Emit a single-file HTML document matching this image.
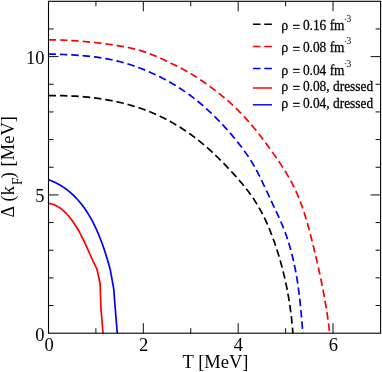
<!DOCTYPE html>
<html><head><meta charset="utf-8"><style>
html,body{margin:0;padding:0;background:#fff;}
body{width:382px;height:372px;overflow:hidden;position:relative;font-family:"Liberation Serif",serif;color:#000;}
svg{position:absolute;left:0;top:0;will-change:transform;}
text{font-family:"Liberation Serif",serif;fill:#000;}
</style></head><body>
<svg width="382" height="372" viewBox="0 0 382 372">
<rect x="0" y="0" width="382" height="372" fill="#fff"/>
<g fill="none" stroke-width="1.7" stroke-linejoin="round">
<path d="M48.50,95.70 L51.49,95.65 L54.48,95.63 L57.48,95.63 L60.48,95.66 L63.48,95.71 L66.49,95.79 L69.49,95.90 L72.50,96.03 L75.51,96.20 L78.52,96.39 L81.53,96.62 L84.53,96.87 L87.53,97.16 L90.53,97.47 L93.53,97.82 L96.52,98.21 L99.51,98.62 L102.49,99.07 L105.46,99.56 L108.43,100.08 L111.39,100.63 L114.34,101.23 L117.28,101.86 L120.22,102.52 L123.14,103.23 L126.05,103.97 L128.95,104.76 L131.83,105.58 L134.71,106.45 L137.57,107.35 L140.41,108.30 L143.24,109.29 L146.06,110.33 L148.85,111.40 L151.63,112.53 L154.40,113.69 L157.14,114.91 L159.87,116.16 L162.57,117.47 L165.26,118.82 L167.92,120.21 L170.56,121.65 L173.18,123.13 L175.78,124.65 L178.36,126.21 L180.91,127.80 L183.43,129.43 L185.94,131.10 L188.41,132.81 L190.86,134.55 L193.29,136.33 L195.69,138.14 L198.06,139.99 L200.40,141.87 L202.72,143.79 L205.01,145.73 L207.28,147.71 L209.52,149.72 L211.74,151.75 L213.94,153.81 L216.11,155.89 L218.27,158.00 L220.41,160.12 L222.54,162.26 L224.65,164.42 L226.74,166.59 L228.82,168.77 L230.88,170.97 L232.93,173.18 L234.96,175.41 L236.96,177.65 L238.94,179.91 L240.90,182.19 L242.82,184.49 L244.71,186.82 L246.56,189.17 L248.38,191.55 L250.16,193.95 L251.89,196.39 L253.57,198.85 L255.21,201.35 L256.80,203.88 L258.33,206.45 L259.82,209.05 L261.25,211.67 L262.64,214.33 L263.99,217.02 L265.29,219.73 L266.55,222.46 L267.77,225.21 L268.95,227.99 L270.10,230.78 L271.21,233.58 L272.28,236.41 L273.33,239.24 L274.34,242.08 L275.33,244.94 L276.29,247.80 L277.22,250.67 L278.13,253.54 L279.01,256.42 L279.86,259.31 L280.68,262.20 L281.48,265.11 L282.26,268.01 L283.00,270.92 L283.72,273.84 L284.42,276.77 L285.09,279.70 L285.73,282.63 L286.35,285.57 L286.95,288.52 L287.52,291.47 L288.06,294.42 L288.58,297.38 L289.07,300.35 L289.54,303.31 L289.98,306.29 L290.40,309.26 L290.80,312.24 L291.17,315.23 L291.52,318.21 L291.84,321.21 L292.14,324.20 L292.42,327.20 L292.67,330.20 L292.90,333.20" stroke="#000" stroke-dasharray="7.5 3.9"/>
<path d="M48.50,39.80 L51.50,39.82 L54.49,39.86 L57.50,39.93 L60.50,40.02 L63.51,40.14 L66.52,40.27 L69.53,40.43 L72.54,40.61 L75.56,40.81 L78.57,41.02 L81.58,41.26 L84.59,41.52 L87.60,41.80 L90.61,42.10 L93.61,42.41 L96.61,42.74 L99.60,43.09 L102.59,43.46 L105.58,43.84 L108.56,44.24 L111.53,44.66 L114.49,45.09 L117.45,45.55 L120.40,46.04 L123.34,46.56 L126.28,47.12 L129.20,47.72 L132.11,48.38 L135.01,49.08 L137.90,49.85 L140.78,50.68 L143.65,51.58 L146.50,52.55 L149.34,53.59 L152.16,54.70 L154.97,55.86 L157.77,57.07 L160.55,58.32 L163.31,59.60 L166.06,60.89 L168.78,62.19 L171.49,63.50 L174.19,64.81 L176.86,66.12 L179.51,67.46 L182.15,68.82 L184.77,70.22 L187.38,71.67 L189.96,73.17 L192.53,74.72 L195.08,76.32 L197.62,77.95 L200.13,79.62 L202.63,81.32 L205.12,83.05 L207.59,84.80 L210.04,86.57 L212.47,88.37 L214.88,90.19 L217.27,92.04 L219.64,93.92 L221.98,95.82 L224.30,97.75 L226.60,99.71 L228.87,101.69 L231.11,103.70 L233.32,105.74 L235.51,107.81 L237.66,109.91 L239.79,112.04 L241.88,114.19 L243.94,116.38 L245.98,118.59 L247.98,120.82 L249.96,123.08 L251.91,125.36 L253.84,127.67 L255.74,129.99 L257.62,132.34 L259.47,134.70 L261.30,137.08 L263.11,139.47 L264.91,141.89 L266.69,144.31 L268.46,146.75 L270.22,149.20 L271.97,151.66 L273.72,154.13 L275.46,156.61 L277.19,159.10 L278.90,161.60 L280.59,164.12 L282.26,166.65 L283.89,169.19 L285.49,171.75 L287.05,174.32 L288.57,176.91 L290.04,179.52 L291.46,182.15 L292.84,184.80 L294.17,187.47 L295.45,190.16 L296.69,192.87 L297.88,195.61 L299.02,198.37 L300.12,201.15 L301.18,203.96 L302.19,206.78 L303.17,209.63 L304.12,212.49 L305.03,215.37 L305.91,218.25 L306.77,221.15 L307.60,224.07 L308.41,226.98 L309.20,229.91 L309.98,232.84 L310.73,235.77 L311.48,238.71 L312.22,241.64 L312.95,244.58 L313.67,247.51 L314.39,250.44 L315.10,253.37 L315.79,256.30 L316.48,259.23 L317.16,262.16 L317.83,265.09 L318.49,268.03 L319.13,270.96 L319.77,273.89 L320.40,276.83 L321.01,279.77 L321.61,282.71 L322.20,285.65 L322.78,288.59 L323.34,291.54 L323.90,294.49 L324.43,297.44 L324.96,300.40 L325.47,303.36 L325.96,306.32 L326.44,309.29 L326.90,312.26 L327.35,315.23 L327.78,318.22 L328.20,321.20 L328.60,324.19 L328.98,327.19 L329.35,330.19 L329.70,333.20" stroke="#f00" stroke-dasharray="7.5 3.9"/>
<path d="M48.50,54.00 L51.50,54.09 L54.51,54.19 L57.52,54.29 L60.53,54.40 L63.54,54.52 L66.56,54.65 L69.58,54.80 L72.59,54.96 L75.61,55.14 L78.63,55.34 L81.64,55.57 L84.65,55.83 L87.66,56.11 L90.67,56.42 L93.67,56.77 L96.66,57.16 L99.65,57.58 L102.63,58.04 L105.61,58.55 L108.58,59.11 L111.54,59.71 L114.48,60.36 L117.42,61.06 L120.35,61.80 L123.27,62.59 L126.17,63.43 L129.06,64.31 L131.94,65.24 L134.81,66.21 L137.65,67.23 L140.49,68.28 L143.30,69.38 L146.10,70.52 L148.88,71.70 L151.65,72.92 L154.39,74.18 L157.12,75.48 L159.82,76.81 L162.50,78.18 L165.16,79.59 L167.80,81.04 L170.41,82.51 L173.00,84.03 L175.57,85.57 L178.11,87.15 L180.63,88.77 L183.13,90.41 L185.60,92.09 L188.04,93.80 L190.47,95.55 L192.86,97.35 L195.24,99.19 L197.59,101.08 L199.92,103.01 L202.22,104.98 L204.50,106.99 L206.75,109.02 L208.98,111.07 L211.19,113.15 L213.37,115.26 L215.52,117.39 L217.65,119.53 L219.76,121.70 L221.84,123.89 L223.90,126.11 L225.94,128.34 L227.94,130.59 L229.93,132.86 L231.89,135.15 L233.82,137.45 L235.73,139.78 L237.62,142.12 L239.48,144.47 L241.31,146.85 L243.11,149.25 L244.87,151.67 L246.60,154.12 L248.29,156.60 L249.94,159.11 L251.54,161.65 L253.10,164.23 L254.60,166.84 L256.06,169.49 L257.48,172.17 L258.86,174.87 L260.21,177.59 L261.54,180.32 L262.85,183.05 L264.15,185.79 L265.43,188.52 L266.71,191.25 L267.99,193.97 L269.27,196.69 L270.54,199.41 L271.82,202.13 L273.09,204.85 L274.37,207.58 L275.66,210.31 L276.93,213.05 L278.20,215.79 L279.45,218.54 L280.67,221.31 L281.86,224.08 L283.01,226.87 L284.13,229.68 L285.19,232.50 L286.21,235.33 L287.19,238.18 L288.13,241.04 L289.03,243.91 L289.88,246.79 L290.70,249.69 L291.48,252.59 L292.23,255.51 L292.94,258.44 L293.62,261.37 L294.26,264.32 L294.87,267.27 L295.46,270.23 L296.01,273.19 L296.53,276.17 L297.03,279.15 L297.50,282.13 L297.94,285.12 L298.36,288.12 L298.76,291.12 L299.14,294.12 L299.50,297.12 L299.84,300.13 L300.17,303.14 L300.48,306.15 L300.77,309.16 L301.06,312.17 L301.33,315.18 L301.59,318.19 L301.84,321.19 L302.09,324.20 L302.33,327.20 L302.57,330.20 L302.80,333.20" stroke="#00f" stroke-dasharray="7.5 3.9"/>
<path d="M48.50,203.29 L50.50,203.68 L52.43,204.21 L54.30,204.89 L56.09,205.69 L57.83,206.62 L59.50,207.66 L61.11,208.81 L62.67,210.05 L64.17,211.37 L65.62,212.77 L67.01,214.23 L68.36,215.75 L69.66,217.31 L70.92,218.91 L72.14,220.54 L73.31,222.19 L74.45,223.87 L75.55,225.57 L76.62,227.29 L77.66,229.02 L78.66,230.78 L79.64,232.55 L80.60,234.33 L81.53,236.13 L82.45,237.94 L83.34,239.75 L84.22,241.58 L85.08,243.41 L85.93,245.25 L86.78,247.09 L87.61,248.94 L88.44,250.79 L89.27,252.63 L90.09,254.48 L90.92,256.32 L91.74,258.16 L92.58,259.99 L93.42,261.81 L94.27,263.62 L95.13,265.43 L96.01,267.22 L96.90,269.00 L100.10,283.50 L100.90,307.50 L103.00,333.30" stroke="#f00"/>
<path d="M48.50,179.70 L50.48,180.45 L52.42,181.25 L54.33,182.10 L56.18,183.00 L58.00,183.95 L59.78,184.95 L61.52,186.00 L63.21,187.09 L64.87,188.22 L66.50,189.40 L68.08,190.62 L69.63,191.88 L71.14,193.18 L72.62,194.52 L74.06,195.90 L75.46,197.31 L76.83,198.76 L78.17,200.24 L79.48,201.75 L80.75,203.30 L82.00,204.87 L83.21,206.48 L84.39,208.11 L85.54,209.77 L86.67,211.45 L87.76,213.16 L88.83,214.89 L89.87,216.64 L90.88,218.41 L91.86,220.21 L92.83,222.02 L93.76,223.85 L94.67,225.69 L95.56,227.55 L96.43,229.42 L97.27,231.31 L98.09,233.20 L98.89,235.11 L99.67,237.03 L100.42,238.95 L101.16,240.88 L101.88,242.81 L102.58,244.75 L103.27,246.69 L103.93,248.64 L104.58,250.58 L105.22,252.52 L105.84,254.47 L106.44,256.41 L107.03,258.34 L107.60,260.27 L108.17,262.19 L108.72,264.11 L109.26,266.02 L109.78,267.91 L110.30,269.80 L113.70,288.60 L115.20,308.00 L117.30,333.30" stroke="#00f"/>
</g>
<g fill="none" stroke="#000" stroke-width="1.1">
<rect x="48.5" y="1.3" width="332.1" height="331.9"/>
</g>
<path d="M95.92,333.2 v-5 M95.92,1.3 v5 M143.34,333.2 v-10 M143.34,1.3 v10 M190.76,333.2 v-5 M190.76,1.3 v5 M238.18,333.2 v-10 M238.18,1.3 v10 M285.60,333.2 v-5 M285.60,1.3 v5 M333.02,333.2 v-10 M333.02,1.3 v10 M48.5,305.54 h5 M380.6,305.54 h-5 M48.5,277.88 h5 M380.6,277.88 h-5 M48.5,250.22 h5 M380.6,250.22 h-5 M48.5,222.57 h5 M380.6,222.57 h-5 M48.5,194.91 h10 M380.6,194.91 h-10 M48.5,167.25 h5 M380.6,167.25 h-5 M48.5,139.59 h5 M380.6,139.59 h-5 M48.5,111.93 h5 M380.6,111.93 h-5 M48.5,84.28 h5 M380.6,84.28 h-5 M48.5,56.62 h10 M380.6,56.62 h-10 M48.5,28.96 h5 M380.6,28.96 h-5" fill="none" stroke="#000" stroke-width="0.95"/>
<g font-size="18.5">
<text x="44.6" y="63.7" text-anchor="end">10</text>
<text x="44.6" y="201.8" text-anchor="end">5</text>
<text x="44.6" y="340.6" text-anchor="end">0</text>
<text x="49.1" y="350.9" text-anchor="middle">0</text>
<text x="143.6" y="350.9" text-anchor="middle">2</text>
<text x="238.4" y="350.9" text-anchor="middle">4</text>
<text x="333.3" y="350.9" text-anchor="middle">6</text>
<text x="182.6" y="367.7">T [MeV]</text>
<text transform="translate(14.0,0) rotate(-90)"><tspan x="-217.4" font-size="17.9">Δ</tspan><tspan x="-201.4">(k</tspan><tspan x="-185.1" dy="7.6" font-size="13.6">F</tspan><tspan x="-178.3" dy="-7.6">)</tspan><tspan x="-166.4">[MeV]</tspan></text>
</g>
<g fill="none" stroke-width="1.45">
<path d="M252.9,24.3 H272" stroke="#000" stroke-dasharray="7.6 3.8"/>
<path d="M252.9,46.4 H272" stroke="#f00" stroke-dasharray="7.6 3.8"/>
<path d="M252.9,68.4 H272" stroke="#00f" stroke-dasharray="7.6 3.8"/>
<path d="M252.9,88.0 H272" stroke="#f00"/>
<path d="M252.9,104.8 H272" stroke="#00f"/>
</g>
<g font-size="13.4" stroke="#000" stroke-width="0.25" transform="scale(1,1.07)">
<text y="28.38"><tspan x="281.3" font-size="14">ρ</tspan><tspan x="292.4" dy="1.5">=</tspan><tspan x="302.9" dy="-1.5">0.16 fm</tspan></text>
<text y="48.94"><tspan x="281.3" font-size="14">ρ</tspan><tspan x="292.4" dy="1.5">=</tspan><tspan x="302.9" dy="-1.5">0.08 fm</tspan></text>
<text y="69.69"><tspan x="281.3" font-size="14">ρ</tspan><tspan x="292.4" dy="1.5">=</tspan><tspan x="302.9" dy="-1.5">0.04 fm</tspan></text>
<text y="85.48"><tspan x="281.3" font-size="14">ρ</tspan><tspan x="292.4" dy="1.5">=</tspan><tspan x="302.9" dy="-1.5">0.08, dressed</tspan></text>
<text y="101.37"><tspan x="281.3" font-size="14">ρ</tspan><tspan x="292.4" dy="1.5">=</tspan><tspan x="302.9" dy="-1.5">0.04, dressed</tspan></text>
</g>
<g font-size="9.5">
<text x="346.6" y="22.3">3</text>
<text x="346.6" y="44.3">3</text>
<text x="346.6" y="66.5">3</text>
</g>
<path d="M344.8,19.4 h1.5 M344.8,41.4 h1.5 M344.8,63.6 h1.5" stroke="#222" stroke-width="0.8" fill="none"/>
</svg>
</body></html>
